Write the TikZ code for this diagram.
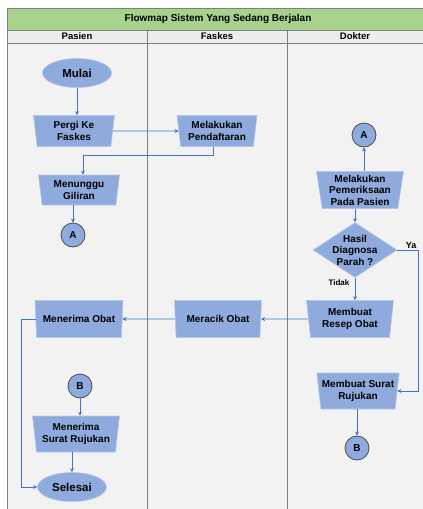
\documentclass[tikz,border=0pt]{standalone}
\usepackage{fontspec}
\setmainfont{Liberation Sans}
\usetikzlibrary{arrows.meta,positioning,calc,shapes.geometric}
\definecolor{Lane}{HTML}{F2F2F2}
\definecolor{Head}{HTML}{EDEDED}
\definecolor{Title}{HTML}{A9D18E}
\definecolor{Frame}{HTML}{7F7F7F}
\definecolor{Shape}{HTML}{8FAADC}
\definecolor{Edge}{HTML}{B4C7E7}
\definecolor{Flow}{HTML}{4472C4}
\newcommand{\boxfont}{\fontsize{10}{11.5}\selectfont\bfseries}
\tikzset{proc/.style={trapezium,trapezium left angle=80,trapezium right angle=80,shape border rotate=180,trapezium stretches body,fill=Shape,draw=Edge,line width=.6pt,inner sep=1pt,align=center,font=\boxfont},term/.style={ellipse,fill=Shape,draw=Edge,line width=.6pt,minimum width=69pt,minimum height=29pt,inner sep=0pt,font=\fontsize{11.5}{13}\selectfont\bfseries},konektor/.style={circle,fill=Shape,draw=black!70,line width=.8pt,minimum size=24pt,inner sep=0pt,font=\boxfont},keputusan/.style={diamond,fill=Shape,draw=Edge,line width=.6pt,minimum width=84pt,minimum height=55pt,inner sep=-6pt,align=center,font=\boxfont},flow/.style={-{Stealth[length=4pt,width=4pt]},line width=.7pt,draw=Flow},lab/.style={font=\fontsize{8}{9}\selectfont\bfseries}}

\begin{document}
\begin{tikzpicture}[x=1pt,y=-1pt]
\clip (0,0) rectangle (423,509);
% swimlanes
\fill[Lane] (7,43) rectangle (425,511);
\fill[Title] (7,8) rectangle (425,30);
\fill[Head] (7,30) rectangle (425,43);
\draw[Frame,line width=.8pt] (7,511) -- (7,8) -- (425,8);
\draw[Frame,line width=.8pt] (7,30) -- (425,30) (7,43) -- (425,43);
\draw[Frame,line width=.8pt] (147,30) -- (147,511) (287,30) -- (287,511);
\node[font=\fontsize{10}{11}\selectfont\bfseries] (judul) at (218,19) {Flowmap Sistem Yang Sedang Berjalan};
\node[font=\fontsize{9.5}{11}\selectfont\bfseries] (hpasien) at (77,36.5) {Pasien};
\node[font=\fontsize{9.5}{11}\selectfont\bfseries] (hfaskes) at (217,36.5) {Faskes};
\node[font=\fontsize{9.5}{11}\selectfont\bfseries] (hdokter) at (355,36.5) {Dokter};
% pasien
\node[term] (mulai) at (77,73) {Mulai};
\node[proc,minimum width=81pt,minimum height=31pt] (pergi) at (74,131) {Pergi Ke\\Faskes};
\node[proc,minimum width=81pt,minimum height=30pt] (tunggu) at (79,190) {Menunggu\\Giliran};
\node[konektor] (a1) at (73,235) {A};
\node[proc,minimum width=88pt,minimum height=37pt] (terima) at (79,319) {Menerima Obat};
\node[konektor] (b1) at (80,386) {B};
\node[proc,minimum width=87pt,minimum height=36pt] (surat) at (76,434) {Menerima\\Surat Rujukan};
\node[term] (selesai) at (72,487) {Selesai};
% faskes
\node[proc,minimum width=80pt,minimum height=31pt] (daftar) at (217,131) {Melakukan\\Pendaftaran};
\node[proc,minimum width=87pt,minimum height=37pt] (racik) at (218,319) {Meracik Obat};
% dokter
\node[konektor] (a2) at (364,135) {A};
\node[proc,minimum width=87pt,minimum height=37pt] (periksa) at (360,190) {Melakukan\\Pemeriksaan\\Pada Pasien};
\node[keputusan] (diag) at (355,250) {Hasil\\Diagnosa\\Parah ?};
\node[proc,minimum width=87pt,minimum height=37pt] (resep) at (350,319) {Membuat\\Resep Obat};
\node[proc,minimum width=79pt,minimum height=36pt] (rujuk) at (358,391) {Membuat Surat\\Rujukan};
\node[konektor] (b2) at (357,448) {B};
% alur
\draw[flow] (mulai) -- (mulai |- pergi.north);
\draw[flow] (pergi) -- (daftar);
\draw[flow] ([xshift=-4pt]daftar.south) -- ++(0,9) -| ([xshift=4pt]tunggu.north);
\draw[flow] (a1 |- tunggu.south) -- (a1);
\draw[flow] (a2 |- periksa.north) -- (a2);
\draw[flow] (diag |- periksa.south) -- (diag);
\draw[flow] (diag.east) -- ++(21,0) node[lab,font=\fontsize{9}{10}\selectfont\bfseries,anchor=south east,inner sep=1.5pt] (ya) {Ya} |- (rujuk.east);
\draw[flow] (diag.south) -- node[lab,pos=.2,left=2pt] (tidak) {Tidak} (diag.south |- resep.north);
\draw[flow] (resep) -- (racik);
\draw[flow] (racik) -- (terima);
\draw[flow] (terima.west) -- ++(-14,0) |- (selesai.west);
\draw[flow] (b1) -- (b1 |- surat.north);
\draw[flow] (selesai |- surat.south) -- (selesai);
\draw[flow] (rujuk.south -| b2) -- (b2);
\end{tikzpicture}
\end{document}
